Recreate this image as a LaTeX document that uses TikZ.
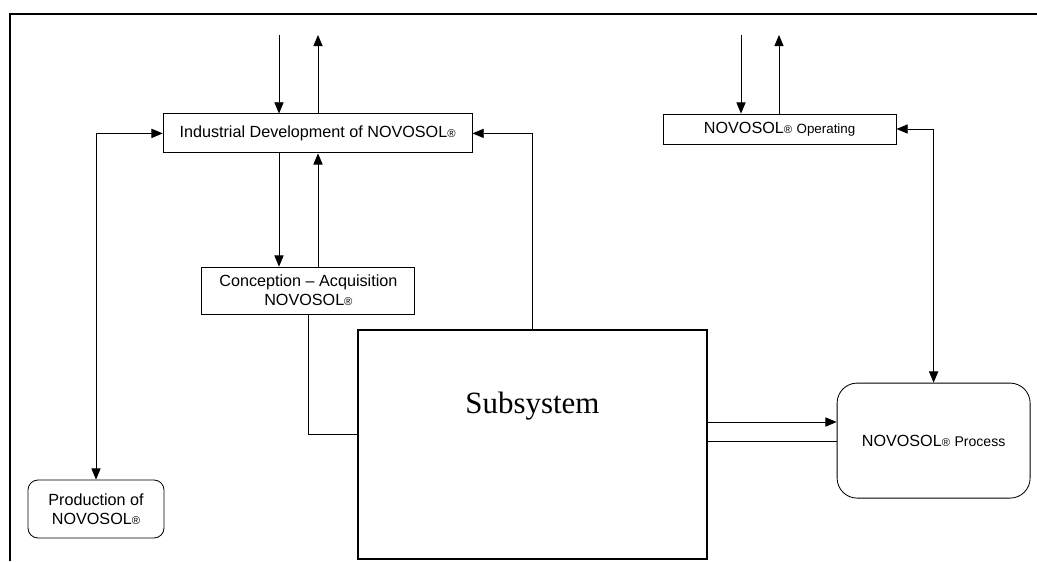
\documentclass[tikz,border=0pt]{standalone}
\usepackage{fontspec}
\setmainfont{Liberation Sans}
\newfontfamily\subsysfont{Liberation Serif}
\usetikzlibrary{arrows.meta,positioning}
\newcommand{\novo}{NOVOSOL{\fontsize{8}{9}\selectfont\textregistered}}

\tikzset{
  box/.style={draw,line width=0.6pt,inner sep=0pt,align=center,font=\fontsize{11.5}{13.5}\selectfont},
  rbox/.style={box,rounded corners=0.25cm},
  link/.style={line width=0.6pt}
}

\begin{document}
\begin{tikzpicture}[>={Triangle[length=0.28cm,width=0.23cm]}]
  \useasboundingbox (0,0) rectangle (25.925,14.025);
  \draw[line width=1.4pt] (0.25,0) -- (0.25,13.675) -- (25.925,13.675);

  \node[box,minimum width=7.725cm,minimum height=0.975cm] (indus) at (7.94,10.69) {Industrial Development of \novo};
  \node[box,minimum width=5.325cm,minimum height=1.175cm] (concep) at (7.71,6.76) {Conception -- Acquisition\\\novo};
  \node[box,line width=1pt,minimum width=8.725cm,minimum height=5.725cm] (subsys) at (13.31,2.91) {};
  \node[font=\subsysfont\fontsize{22}{26}\selectfont] (subtext) at (13.31,3.86) {Subsystem};
  \node[rbox,minimum width=3.4cm,minimum height=1.45cm] (prod) at (2.4,1.3) {Production of\\\novo};
  \node[box,minimum width=5.825cm,minimum height=0.75cm] (oper) at (19.49,10.8) {\novo{} {\fontsize{9.5}{11}\selectfont Operating}};
  \node[rbox,rounded corners=0.5cm,minimum width=4.825cm,minimum height=2.875cm] (proc) at (23.34,3.01) {\novo{} {\fontsize{10}{12}\selectfont Process}};

  % loose ends at the top
  \coordinate (indin) at (6.975,13.15);
  \coordinate (indout) at (7.95,13.15);
  \coordinate (operin) at (18.525,13.15);
  \coordinate (operout) at (19.475,13.15);
  \draw[link,->] (indin) -- (indin |- indus.north);
  \draw[link,->] (indout |- indus.north) -- (indout);
  \draw[link,->] (operin) -- (operin |- oper.north);
  \draw[link,->] (operout |- oper.north) -- (operout);

  \draw[link,->] (indin |- indus.south) -- (indin |- concep.north);
  \draw[link,->] (indout |- concep.north) -- (indout |- indus.south);
  \coordinate (conbend) at (7.71,3.175);
  \draw[link] (concep.south) -- (conbend) -- (conbend -| subsys.west);
  \draw[link,->] (subsys.north) |- (indus.east);
  \draw[link,<->] (indus.west) -| (prod.north);
  \draw[link,<->] (oper.east) -| (proc.north);

  \coordinate (flowa) at (20,3.475);
  \coordinate (flowb) at (20,3.0);
  \draw[link,->] (flowa -| subsys.east) -- (flowa -| proc.west);
  \draw[link] (flowb -| subsys.east) -- (flowb -| proc.west);
\end{tikzpicture}
\end{document}
